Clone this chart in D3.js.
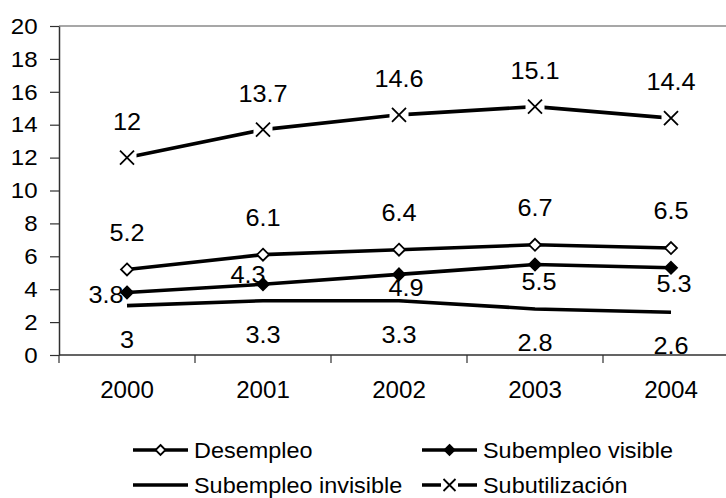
<!DOCTYPE html>
<html>
<head>
<meta charset="utf-8">
<script src="https://cdn.jsdelivr.net/npm/d3@7"></script>
<style>
  html, body { margin: 0; padding: 0; background: #fff; }
  svg { display: block; font-family: "Liberation Sans", Arial, sans-serif; }
</style>
</head>
<body>
<svg id="chart" width="726" height="498"></svg>
<script>
// Data
const years = ['2000', '2001', '2002', '2003', '2004'];
const desempleo = [5.2, 6.1, 6.4, 6.7, 6.5];
const subempleoVisible = [3.8, 4.3, 4.9, 5.5, 5.3];
const subempleoInvisible = [3, 3.3, 3.3, 2.8, 2.6];
const subutilizacion = [12, 13.7, 14.6, 15.1, 14.4];
const yTicks = [0, 2, 4, 6, 8, 10, 12, 14, 16, 18, 20];

// Excel placed the "Subempleo visible" labels unevenly: offsets of the label centre
const visibleLabelOffsets = [[-21, 2], [-15, -9], [7, 13], [4, 17], [3, 16]];

const series = [
  { name: 'Desempleo', values: desempleo, marker: 'diamondOpen', label: () => [0, -37] },
  { name: 'Subempleo visible', values: subempleoVisible, marker: 'diamondFilled', label: (i) => visibleLabelOffsets[i] },
  { name: 'Subempleo invisible', values: subempleoInvisible, marker: 'none', label: () => [0, 34] },
  { name: 'Subutilización', values: subutilizacion, marker: 'cross', label: () => [0, -36] },
];

const svg = d3.select('#chart');
const plot = { left: 59, top: 26, right: 739, bottom: 355 };

const x = d3.scaleBand().domain(years).range([plot.left, plot.right]).padding(0);
const cx = (d) => x(d) + x.bandwidth() / 2;
const y = d3.scaleLinear().domain([0, 20]).range([plot.bottom, plot.top]);

// Plot area top border
svg.append('line')
  .attr('x1', plot.left).attr('x2', plot.right)
  .attr('y1', plot.top).attr('y2', plot.top)
  .attr('stroke', '#8a8a8a').attr('stroke-width', 1.5);

// Y axis
const yAxis = svg.append('g')
  .attr('transform', `translate(${plot.left},0)`)
  .call(d3.axisLeft(y).tickValues(yTicks).tickSize(9).tickSizeOuter(0).tickPadding(11));
yAxis.select('.domain').attr('stroke', '#303030').attr('stroke-width', 1.5);
yAxis.selectAll('.tick line').attr('stroke', '#303030').attr('stroke-width', 1.2);
yAxis.selectAll('.tick text')
  .attr('font-size', 22.5).attr('fill', '#000')
  .attr('font-family', '"Liberation Sans", Arial, sans-serif')
  .attr('transform', 'scale(1.07,1)');

// X axis: labels at band centres, ticks at band boundaries
const xAxis = svg.append('g')
  .attr('transform', `translate(0,${plot.bottom})`)
  .call(d3.axisBottom(x).tickSize(0).tickPadding(27));
xAxis.select('.domain').remove();
xAxis.selectAll('.tick text')
  .attr('font-size', 23).attr('fill', '#000')
  .attr('font-family', '"Liberation Sans", Arial, sans-serif')
  .attr('transform', 'scale(1.05,1)');

svg.append('line')
  .attr('x1', plot.left).attr('x2', plot.right)
  .attr('y1', plot.bottom).attr('y2', plot.bottom)
  .attr('stroke', '#303030').attr('stroke-width', 1.5);

const boundaries = years.map((d) => x(d)).concat([x(years[years.length - 1]) + x.bandwidth()]);
svg.append('g').selectAll('line')
  .data(boundaries)
  .join('line')
  .attr('x1', (d) => d).attr('x2', (d) => d)
  .attr('y1', plot.bottom).attr('y2', plot.bottom + 8)
  .attr('stroke', '#303030').attr('stroke-width', 1.2);

// Markers
function drawMarker(g, type, size) {
  if (type === 'diamondOpen' || type === 'diamondFilled') {
    g.append('path')
      .attr('d', `M0,${-size}L${size},0L0,${size}L${-size},0Z`)
      .attr('fill', type === 'diamondOpen' ? '#fff' : '#000')
      .attr('stroke', '#000').attr('stroke-width', 1.8);
  } else if (type === 'cross') {
    g.append('rect')
      .attr('x', -size - 2.5).attr('y', -size - 2.5)
      .attr('width', 2 * size + 5).attr('height', 2 * size + 5)
      .attr('fill', '#fff');
    g.append('path')
      .attr('d', `M${-size},${-size}L${size},${size}M${-size},${size}L${size},${-size}`)
      .attr('stroke', '#000').attr('stroke-width', 1.8).attr('fill', 'none');
  }
}

const line = d3.line().x((d, i) => cx(years[i])).y((d) => y(d));

series.forEach((s) => {
  svg.append('path')
    .datum(s.values)
    .attr('d', line)
    .attr('fill', 'none')
    .attr('stroke', '#000')
    .attr('stroke-width', 3.6)
    .attr('stroke-linejoin', 'round');

  s.values.forEach((v, i) => {
    const g = svg.append('g').attr('transform', `translate(${cx(years[i])},${y(v)})`);
    drawMarker(g, s.marker, s.marker === 'cross' ? 7 : 6);
  });
});

// Data labels
series.forEach((s) => {
  s.values.forEach((v, i) => {
    const [dx, dy] = s.label(i);
    svg.append('g')
      .attr('transform', `translate(${cx(years[i]) + dx},${y(v) + dy + 8.2})`)
      .append('text')
      .attr('text-anchor', 'middle')
      .attr('font-size', 23)
      .attr('transform', 'scale(1.1,1)')
      .text(String(v));
  });
});

// Legend
const legendCols = [133, 422];
const legendRows = [450, 485];
const legendLen = 55;
series.forEach((s, i) => {
  const lx = legendCols[i % 2];
  const ly = legendRows[Math.floor(i / 2)];
  const g = svg.append('g').attr('transform', `translate(${lx},${ly})`);
  g.append('line')
    .attr('x1', 0).attr('x2', legendLen)
    .attr('y1', 0).attr('y2', 0)
    .attr('stroke', '#000').attr('stroke-width', 3.6);
  const m = g.append('g').attr('transform', `translate(${legendLen / 2},0)`);
  drawMarker(m, s.marker, s.marker === 'cross' ? 6 : 5);
  g.append('g')
    .attr('transform', `translate(${legendLen + 6},7.5)`)
    .append('text')
    .attr('font-size', 21.5)
    .attr('transform', 'scale(1.09,1)')
    .text(s.name);
});
</script>
</body>
</html>
